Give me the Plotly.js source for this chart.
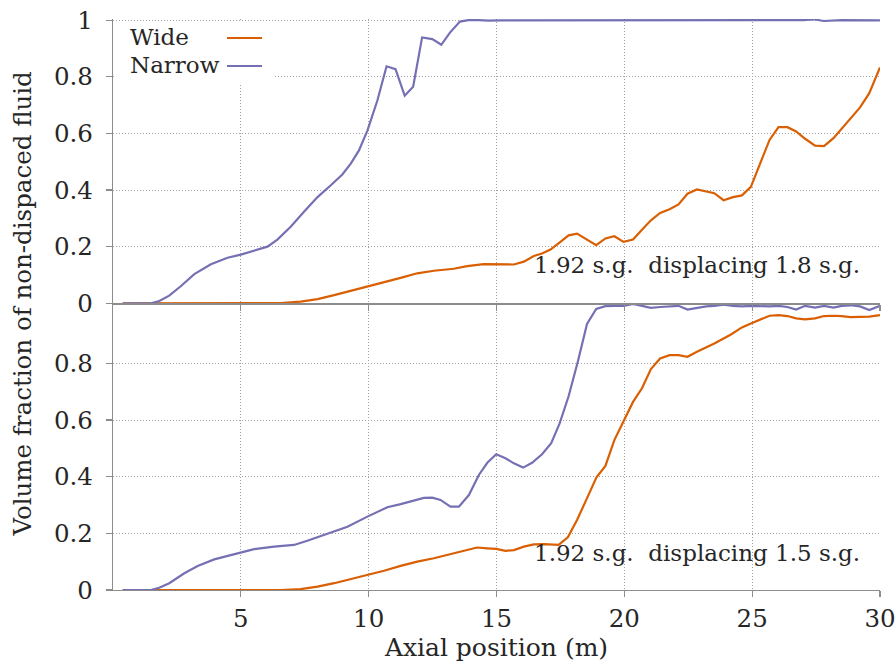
<!DOCTYPE html>
<html>
<head>
<meta charset="utf-8">
<script src="https://cdn.plot.ly/plotly-3.0.1.min.js"></script>
<style>
  html, body { margin: 0; padding: 0; background: #ffffff; }
  #chart { width: 896px; height: 662px; }
</style>
</head>
<body>
<div id="chart"></div>
<script>
// Volume fraction of non-displaced fluid along the annulus, two density cases.

// Upper panel: 1.92 s.g. displacing 1.8 s.g.
const topWideX = [0.38, 1.5, 3, 4.5, 6, 6.56, 7.34, 8.0, 8.65, 9.3, 9.95, 10.6, 11.25, 11.9, 12.55, 13.33, 13.85, 14.5, 15.16, 15.68, 16.07, 16.46, 16.78, 17.11, 17.5, 17.82, 18.15, 18.54, 18.9, 19.26, 19.61, 19.97, 20.34, 20.69, 21.04, 21.4, 21.77, 22.12, 22.47, 22.84, 23.2, 23.52, 23.88, 24.25, 24.6, 24.95, 25.31, 25.68, 26.03, 26.38, 26.72, 27.07, 27.46, 27.81, 28.18, 28.5, 28.85, 29.22, 29.58, 30];
const topWideY = [0, 0, 0, 0, 0, 0.001, 0.006, 0.015, 0.029, 0.044, 0.058, 0.075, 0.09, 0.106, 0.115, 0.122, 0.131, 0.138, 0.138, 0.137, 0.147, 0.167, 0.176, 0.19, 0.217, 0.24, 0.246, 0.225, 0.205, 0.229, 0.237, 0.217, 0.225, 0.26, 0.293, 0.319, 0.332, 0.349, 0.387, 0.402, 0.395, 0.389, 0.364, 0.375, 0.381, 0.411, 0.493, 0.577, 0.622, 0.622, 0.607, 0.581, 0.557, 0.555, 0.583, 0.616, 0.654, 0.692, 0.742, 0.833];

const topNarrowX = [0.38, 1.48, 1.81, 2.2, 2.66, 3.18, 3.83, 4.48, 5.0, 5.65, 6.04, 6.43, 6.95, 7.47, 8.0, 8.52, 8.97, 9.3, 9.62, 9.95, 10.34, 10.7, 11.05, 11.41, 11.74, 12.09, 12.49, 12.84, 13.18, 13.57, 13.9, 14.3, 14.7, 15.1, 16, 17, 18, 19, 20, 21, 22, 23, 24, 25, 26, 27, 27.4, 27.8, 28.5, 29.5, 30];
const topNarrowY = [0, 0, 0.008, 0.027, 0.061, 0.103, 0.138, 0.161, 0.172, 0.188, 0.2, 0.225, 0.27, 0.323, 0.375, 0.417, 0.455, 0.493, 0.54, 0.61, 0.716, 0.837, 0.827, 0.733, 0.765, 0.939, 0.933, 0.913, 0.956, 0.995, 1.0, 1.0, 0.998, 0.999, 0.999, 0.998, 0.999, 0.999, 0.999, 0.999, 0.998, 0.999, 0.999, 0.999, 0.998, 1.0, 1.003, 0.997, 1.0, 0.999, 0.999];

// Lower panel: 1.92 s.g. displacing 1.5 s.g.
const botWideX = [0.38, 1.5, 3, 4.5, 6, 6.56, 7.34, 8.0, 8.65, 9.3, 9.95, 10.6, 11.25, 11.9, 12.55, 13.2, 13.85, 14.24, 14.64, 14.99, 15.35, 15.68, 16.07, 16.46, 16.85, 17.43, 17.79, 18.15, 18.52, 18.91, 19.26, 19.61, 19.97, 20.34, 20.69, 21.04, 21.4, 21.77, 22.12, 22.47, 22.84, 23.52, 24.17, 24.6, 24.95, 25.31, 25.68, 26.03, 26.38, 26.72, 27.07, 27.46, 27.81, 28.18, 28.5, 28.85, 29.22, 29.58, 30];
const botWideY = [0, 0, 0, 0, 0, 0, 0.003, 0.012, 0.024, 0.038, 0.053, 0.068, 0.085, 0.1, 0.112, 0.126, 0.141, 0.15, 0.147, 0.145, 0.138, 0.141, 0.153, 0.161, 0.162, 0.159, 0.186, 0.247, 0.32, 0.398, 0.438, 0.529, 0.596, 0.664, 0.712, 0.78, 0.817, 0.829, 0.829, 0.823, 0.841, 0.87, 0.902, 0.927, 0.941, 0.953, 0.968, 0.97, 0.967, 0.959, 0.955, 0.959, 0.967, 0.968, 0.967, 0.963, 0.963, 0.965, 0.97];

const botNarrowX = [0.38, 1.48, 1.81, 2.2, 2.79, 3.31, 3.96, 4.74, 5.52, 6.3, 7.08, 7.6, 8.39, 9.17, 9.95, 10.73, 11.25, 11.77, 12.16, 12.49, 12.81, 13.2, 13.53, 13.92, 14.31, 14.64, 14.99, 15.35, 15.68, 16.04, 16.39, 16.78, 17.14, 17.47, 17.82, 18.18, 18.54, 18.9, 19.26, 19.61, 19.97, 20.34, 20.69, 21.04, 21.4, 21.77, 22.12, 22.47, 22.84, 23.2, 23.52, 23.88, 24.25, 24.6, 24.95, 25.31, 25.68, 26.03, 26.38, 26.72, 27.07, 27.46, 27.81, 28.18, 28.5, 28.85, 29.22, 29.58, 30];
const botNarrowY = [0, 0, 0.008, 0.024, 0.059, 0.085, 0.108, 0.127, 0.144, 0.153, 0.159, 0.174, 0.198, 0.223, 0.259, 0.292, 0.303, 0.314, 0.325, 0.326, 0.318, 0.294, 0.294, 0.335, 0.406, 0.449, 0.479, 0.465, 0.447, 0.432, 0.449, 0.479, 0.518, 0.588, 0.684, 0.806, 0.939, 0.992, 1.002, 1.003, 1.003, 1.01, 1.003, 0.996, 0.999, 1.001, 1.003, 0.990, 0.996, 1.001, 1.003, 1.007, 1.003, 1.001, 1.003, 1.002, 1.001, 1.003, 0.999, 0.99, 1.003, 0.997, 1.003, 0.997, 1.003, 1.005, 1.001, 0.988, 1.003];

const seriesNames = ['Wide', 'Narrow'];
const caseLabels = ['1.92 s.g.  displacing 1.8 s.g.', '1.92 s.g.  displacing 1.5 s.g.'];
const xTicks = [5, 10, 15, 20, 25, 30];
const yTicksTop = [0, 0.2, 0.4, 0.6, 0.8, 1];
const yTicksBot = [0, 0.2, 0.4, 0.6, 0.8];
const axisTitleX = 'Axial position (m)';
const axisTitleY = 'Volume fraction of non-dispaced fluid';

const ORANGE = '#d95f02';
const PURPLE = '#7570b3';
const FONT = 'DejaVu Serif';
const TXT = '#262626';
const FS_TICK = 24.5;
const FS_TITLE = 25;
const FS_TEXT = 23;

// y tick labels sit a little further from the axis than the default gap
const padLabel = v => String(v) + '\u00a0';

function line(x, y, color, xa, ya, name) {
  return { x: x, y: y, xaxis: xa, yaxis: ya, name: name, type: 'scatter', mode: 'lines',
           line: { color: color, width: 2.2 }, showlegend: false, hoverinfo: 'skip' };
}

const traces = [
  line(topWideX, topWideY, ORANGE, 'x2', 'y2', seriesNames[0]),
  line(topNarrowX, topNarrowY, PURPLE, 'x2', 'y2', seriesNames[1]),
  line(botWideX, botWideY, ORANGE, 'x', 'y', seriesNames[0]),
  line(botNarrowX, botNarrowY, PURPLE, 'x', 'y', seriesNames[1])
];

const split = 0.5021;
const gridCommon = {
  showgrid: true, gridcolor: '#a0a0a0', gridwidth: 1, griddash: '1px,2px',
  zeroline: false, showline: true, linecolor: '#8c8c8c', linewidth: 1.4,
  ticks: 'outside', ticklen: 6, tickcolor: '#8c8c8c', tickwidth: 1.2,
  tickfont: { family: FONT, size: FS_TICK, color: TXT }
};

const layout = {
  width: 896, height: 662,
  margin: { l: 113, r: 16, t: 19, b: 72 },
  paper_bgcolor: '#ffffff', plot_bgcolor: '#ffffff',
  font: { family: FONT, size: FS_TEXT, color: TXT },
  showlegend: false,
  xaxis: Object.assign({}, gridCommon, {
    domain: [0, 1], anchor: 'y', range: [0, 30], tickvals: xTicks,
    title: { text: axisTitleX, font: { family: FONT, size: FS_TITLE, color: TXT }, standoff: 8 }
  }),
  yaxis: Object.assign({}, gridCommon, {
    domain: [0, split], anchor: 'x', range: [0, 1.012],
    tickvals: yTicksBot, ticktext: yTicksBot.map(padLabel)
  }),
  xaxis2: Object.assign({}, gridCommon, {
    domain: [0, 1], anchor: 'y2', range: [0, 30], tickvals: xTicks, showticklabels: false
  }),
  yaxis2: Object.assign({}, gridCommon, {
    domain: [split, 1], anchor: 'x2', range: [0, 1.004],
    tickvals: yTicksTop, ticktext: yTicksTop.map(padLabel)
  }),
  annotations: [
    { text: caseLabels[0], xref: 'x2', yref: 'y2', x: 29.3, y: 0.135,
      xanchor: 'right', yanchor: 'middle', showarrow: false,
      font: { family: FONT, size: FS_TEXT, color: TXT } },
    { text: caseLabels[1], xref: 'x', yref: 'y', x: 29.3, y: 0.13,
      xanchor: 'right', yanchor: 'middle', showarrow: false,
      font: { family: FONT, size: FS_TEXT, color: TXT } },
    { text: axisTitleY, xref: 'paper', yref: 'paper', x: -0.1186, y: 0.5,
      xanchor: 'center', yanchor: 'middle', textangle: -90, showarrow: false,
      font: { family: FONT, size: FS_TITLE - 0.5, color: TXT } },
    // legend entries (text left, sample line right)
    { text: seriesNames[0], xref: 'paper', yref: 'paper', x: 0.0196, y: 0.9685,
      xanchor: 'left', yanchor: 'middle', showarrow: false,
      font: { family: FONT, size: FS_TEXT, color: TXT } },
    { text: seriesNames[1], xref: 'paper', yref: 'paper', x: 0.0196, y: 0.919,
      xanchor: 'left', yanchor: 'middle', showarrow: false,
      font: { family: FONT, size: FS_TEXT, color: TXT } }
  ],
  shapes: [
    { type: 'rect', xref: 'paper', yref: 'paper', x0: 0.002, x1: 0.211, y0: 0.888, y1: 0.995,
      fillcolor: '#ffffff', line: { width: 0 }, layer: 'above' },
    { type: 'line', xref: 'paper', yref: 'paper', x0: 0.1486, x1: 0.1943, y0: 0.9667, y1: 0.9667,
      line: { color: ORANGE, width: 2.2 }, layer: 'above' },
    { type: 'line', xref: 'paper', yref: 'paper', x0: 0.1486, x1: 0.1943, y0: 0.9177, y1: 0.9177,
      line: { color: PURPLE, width: 2.2 }, layer: 'above' }
  ]
};

Plotly.newPlot('chart', traces, layout, { staticPlot: true, displayModeBar: false });
</script>
</body>
</html>
